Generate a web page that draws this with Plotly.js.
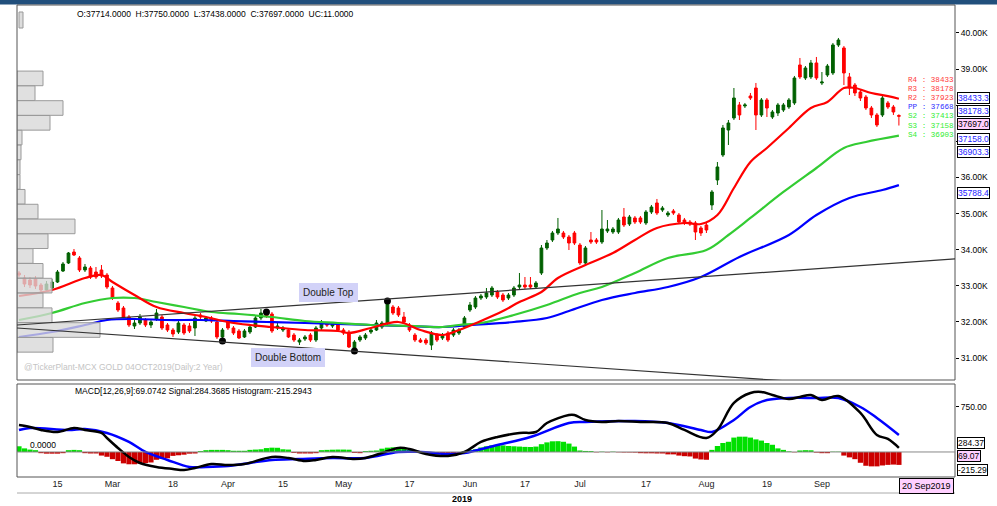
<!DOCTYPE html>
<html><head><meta charset="utf-8">
<script src="https://cdn.plot.ly/plotly-3.0.1.min.js"></script>
<style>html,body{margin:0;padding:0;background:#fff;}#chart{width:997px;height:506px;}</style>
</head><body><div id="chart"></div>
<script>
// ---- trading days (2019) ----
const febDays=[6,7,8,11,12,13,14,15,18,19,20,21,22,25,26,27,28];
const marDays=[1,4,5,6,7,8,11,12,13,14,15,18,19,20,21,22,25,26,27,28,29];
const aprDays=[1,2,3,4,5,8,9,10,11,12,15,16,17,18,22,23,24,25,26,29,30];
const mayDays=[1,2,3,6,7,8,9,10,13,14,15,16,17,20,21,22,23,24,27,28,29,30,31];
const junDays=[3,4,5,6,7,10,11,12,13,14,17,18,19,20,21,24,25,26,27,28];
const julDays=[1,2,3,4,5,8,9,10,11,12,15,16,17,18,19,22,23,24,25,26,29,30,31];
const augDays=[1,2,5,6,7,8,9,12,13,14,16,19,20,21,22,23,26,27,28,29,30];
const sepDays=[2,3,4,5,6,9,10,11,12,13,16,17,18,19,20];
const dates=[];
[[2,febDays],[3,marDays],[4,aprDays],[5,mayDays],[6,junDays],[7,julDays],[8,augDays],[9,sepDays]]
 .forEach(([m,ds])=>ds.forEach(d=>dates.push('2019-'+String(m).padStart(2,'0')+'-'+String(d).padStart(2,'0'))));

const tickDates=['2019-02-15','2019-03-01','2019-03-18','2019-04-01','2019-04-15','2019-05-01','2019-05-17','2019-06-03','2019-06-17','2019-07-01','2019-07-17','2019-08-01','2019-08-19','2019-09-02'];
const tickLabels=['15','Mar','18','Apr','15','May','17','Jun','17','Jul','17','Aug','19','Sep'];

// ---- OHLC ----
const openP=[33355,33216,33161,33189,33022,32884,32939,33105,33410,33632,
33936,33770,33438,33493,33382,33438,33299,32939,32524,32385,
32136,31887,31970,32053,31915,32081,32136,31915,31776,31721,
31915,31887,31832,32192,32026,32109,31998,31583,31998,31832,
31749,31583,31721,31859,32109,32247,32219,31832,31776,31776,
31638,31444,31527,31638,31499,31832,31942,31887,31915,31776,
31721,31278,31499,31555,31721,31776,31859,31970,32413,32385,
32136,31915,31638,31499,31499,31361,31638,31555,31693,31638,
31693,31859,32330,32413,32662,32690,32745,32829,32745,32662,
32745,32967,33022,33022,32967,33355,34047,34268,34462,34462,
34351,34462,34130,33632,34268,34268,34213,34518,34490,34490,
34905,34711,34878,34878,34739,35044,35293,35099,34961,35071,
34961,34822,34767,34739,34601,34684,35238,35930,36622,37314,
37647,38007,37979,38256,38477,37730,38145,37674,37785,37868,
37951,38062,39114,38754,38782,39170,38616,38837,38893,39668,
39585,38782,38560,38367,38228,37923,37730,37730,38062,37951,
37714];
const highP=[33410,33299,33244,33272,33078,33133,33189,33438,33659,33936,
34019,33825,33604,33548,33521,33576,33355,32995,32579,32441,
32192,32053,32219,32109,32053,32358,32192,31970,31832,32026,
31970,31970,32164,32247,32164,32164,32053,31832,32053,31887,
31804,31804,31915,32164,32358,32302,32275,31970,31887,31832,
31693,31555,31638,31693,31887,32053,31998,31998,31998,31832,
31776,31499,31638,31693,31832,32053,32026,32579,32469,32441,
32275,31970,31693,31555,31555,31749,31693,31693,31749,31832,
31832,32164,32552,32718,32773,32939,32995,32884,32801,32801,
32995,33355,33244,33244,33133,34130,34268,34518,34878,34518,
34407,34518,34185,34102,34490,34324,35099,34822,34628,34878,
35154,34961,34933,34933,35099,35238,35404,35210,35071,35127,
35016,34878,34822,34795,34656,34739,35653,36428,37453,37591,
38477,38090,38062,38339,38616,38200,38200,37868,38062,38062,
38200,38810,39308,39086,39253,39336,38920,39142,39723,39862,
39640,38893,38616,38422,38283,37979,37785,38256,38117,38007,
37750];
const lowP=[33244,32967,32939,32912,32829,32829,32884,33078,33382,33604,
33825,33382,33382,33189,33189,33216,32912,32607,32275,32109,
31859,31804,31915,31859,31832,32026,31776,31721,31583,31666,
31638,31693,31610,32081,31998,31970,31527,31444,31776,31638,
31527,31555,31666,31832,32053,32109,31693,31776,31721,31555,
31444,31361,31472,31444,31444,31776,31859,31832,31721,31638,
31278,31195,31444,31499,31666,31749,31804,31915,32192,32136,
31942,31721,31444,31416,31361,31222,31444,31499,31444,31583,
31638,31804,32275,32358,32607,32635,32690,32635,32552,32607,
32690,32912,32912,32912,32912,33299,33991,34213,34407,34296,
33991,34130,33576,33576,34158,34158,34158,34462,34435,34435,
34628,34656,34711,34711,34684,34988,34961,35044,34905,34961,
34711,34684,34656,34268,34379,34462,35099,35791,36567,36899,
37591,37591,37923,38145,37314,37674,37674,37619,37702,37813,
37896,38007,38726,38699,38726,38699,38560,38782,38837,39613,
38560,38283,38256,38117,37868,37647,37397,37674,37896,37730,
37438];
const closeP=[33299,33050,33022,32995,32884,33050,33105,33382,33604,33908,
33853,33438,33521,33244,33244,33272,32967,32662,32330,32136,
31915,31970,32136,31915,31998,32247,31832,31776,31666,31970,
31693,31749,32109,32136,32109,32026,31583,31776,31832,31693,
31555,31749,31859,32109,32247,32164,31749,31887,31832,31583,
31499,31499,31583,31499,31832,31970,31915,31942,31776,31693,
31306,31444,31583,31638,31776,31970,31970,32552,32247,32192,
31998,31776,31499,31444,31416,31693,31499,31638,31499,31776,
31776,32109,32469,32662,32718,32801,32939,32690,32607,32745,
32939,33022,32967,32967,33078,34047,34185,34462,34573,34351,
34185,34185,33632,34047,34213,34213,34573,34573,34573,34822,
34684,34905,34767,34767,35044,35182,35016,35154,35016,35016,
34767,34739,34711,34490,34462,34545,35598,36290,37370,37508,
38200,37730,38007,38200,37730,38145,37923,37813,38007,38007,
38145,38754,38782,39031,39170,38754,38643,39086,39668,39806,
38893,38477,38339,38200,37923,37730,37453,38200,37951,37813,
37697];

// ---- moving averages (read at sample days) ----
const maRedIdx=[0,6,12,15,17,21,25,30,34,38,42,46,52,58,60,64,69,73,77,80,84,88,91,95,98,103,108,112,116,121,124,127,130,133,136,140,144,147,150,152,155,158,160];
const maRedVal=[32718,32884,33216,33299,33105,32745,32413,32247,32136,31998,31915,31859,31776,31749,31693,31832,31998,31776,31638,31776,32026,32302,32552,32829,33216,33576,33908,34268,34601,34739,34711,34961,35708,36428,36816,37370,37923,38090,38477,38477,38339,38250,38178];
const maGreenIdx=[0,6,12,17,21,25,30,35,40,46,52,58,64,72,77,80,84,90,96,102,106,112,118,125,129,133,139,145,150,154,160];
const maGreenVal=[32053,32247,32524,32662,32662,32552,32413,32275,32219,32136,32026,31970,31915,31887,31859,31915,31970,32192,32469,32801,32967,33355,33770,33991,34407,34878,35598,36262,36816,36982,37158];
const maBlueIdx=[0,6,12,16,21,27,33,39,45,52,64,70,77,82,90,96,100,106,112,118,124,131,140,145,151,157,160];
const maBlueVal=[31583,31721,31915,32053,32081,32053,32053,32026,31998,31970,31915,31887,31859,31915,31998,32109,32302,32607,32801,32967,33244,33798,34407,34961,35432,35653,35788];

// ---- pattern points & trend lines ----
const dotIdx=[45,67,37,61];
const dotVal=[32275,32579,31470,31195];
const trendTopPos=[-0.36,170.2], trendTopVal=[31915,33743];
const trendBotPos=[-0.36,170.2], trendBotVal=[31832,30046];

// ---- volume profile ----
const profilePrice=[38743,38333,37923,37513,37104,36694,36284,35875,35465,35055,34645,34235,33825,33415,33005,32596,32186,31776,31366];
const profileVol=[26,18,46,33,5,4,3,3,8,21,58,31,16,26,35,26,35,83,36];

// ---- pivots ----
const pivotNames=['R4','R3','R2','PP','S2','S3','S4'];
const pivotLevels=[38433,38178,37923,37668,37413,37158,36903];
const pivotColors=['#ff3b3b','#ff3b3b','#ff3b3b','#2f2fff','#33ee33','#33ee33','#33ee33'];

// ---- right-side value tags ----
const priceTagVals=[38433.3,38178.3,37697.0,37158.0,36903.3,35788.4];
const priceTagTop=[92,105,118,133,146,187];   // pixel tops of the tag boxes

// ---- MACD ----
const macdIdx=[0,2,4,7,10,12,15,16,18,20,22,25,28,30,32,35,38,41,46,49,52,54,57,61,63,66,69,71,74,78,81,84,87,91,94,96,100,101,103,106,109,113,118,121,125,127,130,133,135,137,140,142,144,146,149,153,156,158,160];
const macdVal=[450,417,367,333,400,367,317,233,67,-83,-183,-250,-283,-300,-267,-200,-217,-200,-83,-100,-150,-133,-83,-117,-100,-17,67,50,-33,-67,0,167,250,317,333,483,617,617,533,500,517,500,483,367,233,367,817,983,1000,950,883,917,950,867,933,650,283,217,69.07];
const sigIdx=[0,2,9,12,16,20,23,27,31,34,38,42,46,51,57,63,69,73,78,81,87,93,100,103,112,118,124,126,130,133,136,140,145,149,153,156,160];
const sigVal=[367,400,367,383,317,167,0,-133,-250,-250,-233,-183,-133,-117,-100,-100,0,0,-33,-17,117,250,483,500,517,483,367,333,533,750,867,900,900,900,750,567,284.37];
const histVal=[95,60,40,30,-20,-28,-28,-28,-20,30,
35,30,-20,-25,-25,-60,-80,-120,-150,-190,
-205,-205,-195,-185,-175,-130,-115,-105,-65,-55,
-45,-28,-25,15,30,35,35,35,30,20,
20,20,35,40,45,65,72,70,45,40,
-15,-25,-25,-25,-20,30,35,38,40,40,
38,-15,-20,15,20,25,55,72,78,75,
60,35,30,-15,-20,-22,-22,-22,-20,-18,
-15,15,30,45,75,95,110,117,110,100,
95,90,85,83,90,130,160,178,180,170,
140,90,25,17,15,-5,5,-5,5,-5,
-8,-8,-10,-20,-22,-22,-25,-25,-40,-40,
-60,-70,-75,-110,-125,-130,35,100,150,170,
240,255,255,240,210,190,150,120,60,35,
10,-5,25,30,28,-10,-20,-20,5,5,
-60,-90,-120,-180,-230,-240,-240,-225,-215,-210,
-215.29];
const macdTags=[284.37,69.07,-215.29];
const macdTagTop=[437,450,464];

const yTicks=[31000,32000,33000,34000,35000,36000,37000,38000,39000,40000];
const yTickText=['31.00K','32.00K','33.00K','34.00K','35.00K','36.00K','','','39.00K','40.00K'];

const FONT='Liberation Sans, Arial, sans-serif';
const at=a=>a.map(i=>dates[i]);

const traces=[
 {type:'candlestick',x:dates,open:openP,high:highP,low:lowP,close:closeP,xaxis:'x',yaxis:'y',
  increasing:{line:{color:'#006000',width:1},fillcolor:'#006000'},
  decreasing:{line:{color:'#ff0000',width:1},fillcolor:'#ff0000'},whiskerwidth:0,hoverinfo:'skip'},
 {type:'scatter',mode:'lines',x:at(maBlueIdx),y:maBlueVal,line:{color:'#0000ff',width:2.2,shape:'spline'},xaxis:'x',yaxis:'y'},
 {type:'scatter',mode:'lines',x:at(maGreenIdx),y:maGreenVal,line:{color:'#33cc33',width:2.2,shape:'spline'},xaxis:'x',yaxis:'y'},
 {type:'scatter',mode:'lines',x:at(maRedIdx),y:maRedVal,line:{color:'#ff0000',width:2.2,shape:'spline'},xaxis:'x',yaxis:'y'},
 {type:'scatter',mode:'markers',x:at(dotIdx),y:dotVal,marker:{color:'#000',size:7},xaxis:'x',yaxis:'y'},
 {type:'bar',orientation:'h',y:profilePrice,x:profileVol,width:405,xaxis:'x2',yaxis:'y',
  marker:{color:'rgba(215,215,215,0.78)',line:{color:'#9a9a9a',width:1}},hoverinfo:'skip'},
 {type:'bar',x:dates,y:histVal,xaxis:'x',yaxis:'y2',
  marker:{color:histVal.map(v=>v>=0?'#00e000':'#cc0000'),line:{width:0}},hoverinfo:'skip'},
 {type:'scatter',mode:'lines',x:at(sigIdx),y:sigVal,line:{color:'#0000ff',width:2.5,shape:'spline'},xaxis:'x',yaxis:'y2'},
 {type:'scatter',mode:'lines',x:at(macdIdx),y:macdVal,line:{color:'#000000',width:2.5,shape:'spline'},xaxis:'x',yaxis:'y2'}
];

const PW=938, PH=472;
const px=x=>(x-17)/PW, py=y=>(477-y)/PH;

const shapes=[
 {type:'rect',xref:'paper',yref:'paper',x0:px(0),x1:px(997),y0:py(4.5),y1:py(0),fillcolor:'#214f7c',line:{width:0}},
 {type:'rect',xref:'paper',yref:'paper',x0:0,x1:1,y0:py(380),y1:py(5),line:{color:'#555',width:1}},
 {type:'rect',xref:'paper',yref:'paper',x0:0,x1:1,y0:0,y1:py(384),line:{color:'#555',width:1}},
 {type:'line',xref:'paper',yref:'paper',x0:0,x1:1,y0:py(493),y1:py(493),line:{color:'#aaa',width:1}},
 {type:'rect',xref:'paper',yref:'paper',x0:px(19),x1:px(23),y0:py(28),y1:py(12),fillcolor:'#ddd',line:{color:'#999',width:1}},
 {type:'line',xref:'paper',yref:'y2',x0:0,x1:1,y0:0,y1:0,line:{color:'#888',width:1}},
 {type:'line',xref:'x',yref:'y',x0:trendTopPos[0],x1:trendTopPos[1],y0:trendTopVal[0],y1:trendTopVal[1],line:{color:'#333',width:1.2}},
 {type:'line',xref:'x',yref:'y',x0:trendBotPos[0],x1:trendBotPos[1],y0:trendBotVal[0],y1:trendBotVal[1],line:{color:'#333',width:1.2}}
];

const ann=[];
ann.push({xref:'paper',yref:'paper',x:px(75),y:py(14),xanchor:'left',yanchor:'middle',showarrow:false,
 text:'O:37714.0000  H:37750.0000  L:37438.0000  C:37697.0000  UC:11.0000',font:{family:FONT,size:8.5,color:'#000'}});
ann.push({xref:'paper',yref:'paper',x:px(73),y:py(391),xanchor:'left',yanchor:'middle',showarrow:false,
 text:'MACD[12,26,9]:69.0742 Signal:284.3685 Histogram:-215.2943',font:{family:FONT,size:8.5,color:'#000'}});
ann.push({xref:'paper',yref:'y2',x:px(28),y:0,xanchor:'left',yanchor:'bottom',showarrow:false,
 text:'0.0000',font:{family:FONT,size:8.5,color:'#000'}});
ann.push({xref:'paper',yref:'paper',x:px(22),y:py(367),xanchor:'left',yanchor:'middle',showarrow:false,
 text:'@TickerPlant-MCX GOLD 04OCT2019(Daily:2 Year)',font:{family:FONT,size:8.5,color:'#c4c4c4'}});
ann.push({xref:'paper',yref:'paper',x:px(328),y:py(293),xanchor:'center',yanchor:'middle',showarrow:false,
 text:'Double Top',font:{family:FONT,size:10,color:'#222'},bgcolor:'#d2d2f8',bordercolor:'#d2d2f8',borderpad:3});
ann.push({xref:'paper',yref:'paper',x:px(288),y:py(357),xanchor:'center',yanchor:'middle',showarrow:false,
 text:'Double Bottom',font:{family:FONT,size:10,color:'#222'},bgcolor:'#d2d2f8',bordercolor:'#d2d2f8',borderpad:3});
pivotNames.forEach((n,k)=>ann.push({xref:'x',yref:'y',x:161.2,y:pivotLevels[k],xanchor:'left',yanchor:'middle',yshift:10,showarrow:false,
 text:n+' : '+pivotLevels[k],font:{family:'Liberation Mono, DejaVu Sans Mono, monospace',size:7.6,color:pivotColors[k]}}));
priceTagVals.forEach((v,k)=>{
 const isClose=(v===37697.0);
 ann.push({xref:'paper',yref:'paper',x:px(957),y:py(priceTagTop[k]),xanchor:'left',yanchor:'top',showarrow:false,
  text:v.toFixed(1),font:{family:FONT,size:8.5,color:isClose?'#000':'#2323ff'},bgcolor:isClose?'#ffd0ff':'#fff',bordercolor:'#000',borderwidth:1,borderpad:0});
});
macdTags.forEach((v,k)=>ann.push({xref:'paper',yref:'paper',x:px(957),y:py(macdTagTop[k]),xanchor:'left',yanchor:'top',showarrow:false,
 text:v.toFixed(2),font:{family:FONT,size:8.5,color:'#000'},bgcolor:k===1?'#ffd0ff':'#fff',bordercolor:'#000',borderwidth:1,borderpad:0}));
ann.push({xref:'paper',yref:'paper',x:px(926),y:py(486),xanchor:'center',yanchor:'middle',showarrow:false,
 text:'20 Sep2019',font:{family:FONT,size:9,color:'#000'},bgcolor:'#ffd0ff',bordercolor:'#000',borderwidth:1,borderpad:2});
ann.push({xref:'paper',yref:'paper',x:px(462),y:py(499),xanchor:'center',yanchor:'middle',showarrow:false,
 text:'<b>2019</b>',font:{family:FONT,size:9,color:'#000'}});

const layout={
 width:997,height:506,margin:{l:17,r:42,t:5,b:29,pad:0},
 paper_bgcolor:'#fff',plot_bgcolor:'#fff',showlegend:false,hovermode:false,bargap:0.05,
 font:{family:FONT,size:9,color:'#000'},
 xaxis:{type:'category',range:[-0.36,170.2],anchor:'y2',tickmode:'array',tickvals:tickDates,ticktext:tickLabels,
  ticks:'',showgrid:false,zeroline:false,showline:false,rangeslider:{visible:false},tickfont:{family:FONT,size:9,color:'#222'},fixedrange:true},
 xaxis2:{overlaying:'x',range:[0,PW],visible:false,anchor:'y',fixedrange:true},
 yaxis:{domain:[py(380),1],range:[30392,40775],side:'right',anchor:'x',tickmode:'array',tickvals:yTicks,ticktext:yTickText,
  ticks:'outside',ticklen:3,tickcolor:'#000',showgrid:false,zeroline:false,showline:false,tickfont:{family:FONT,size:8.5},fixedrange:true},
 yaxis2:{domain:[0,py(384)],range:[-417,1133],side:'right',anchor:'x',tickmode:'array',tickvals:[750],ticktext:['750.00'],
  ticks:'outside',ticklen:3,tickcolor:'#000',showgrid:false,zeroline:false,showline:false,tickfont:{family:FONT,size:8.5},fixedrange:true},
 shapes:shapes,annotations:ann
};
Plotly.newPlot('chart',traces,layout,{staticPlot:true,displayModeBar:false});
</script></body></html>
